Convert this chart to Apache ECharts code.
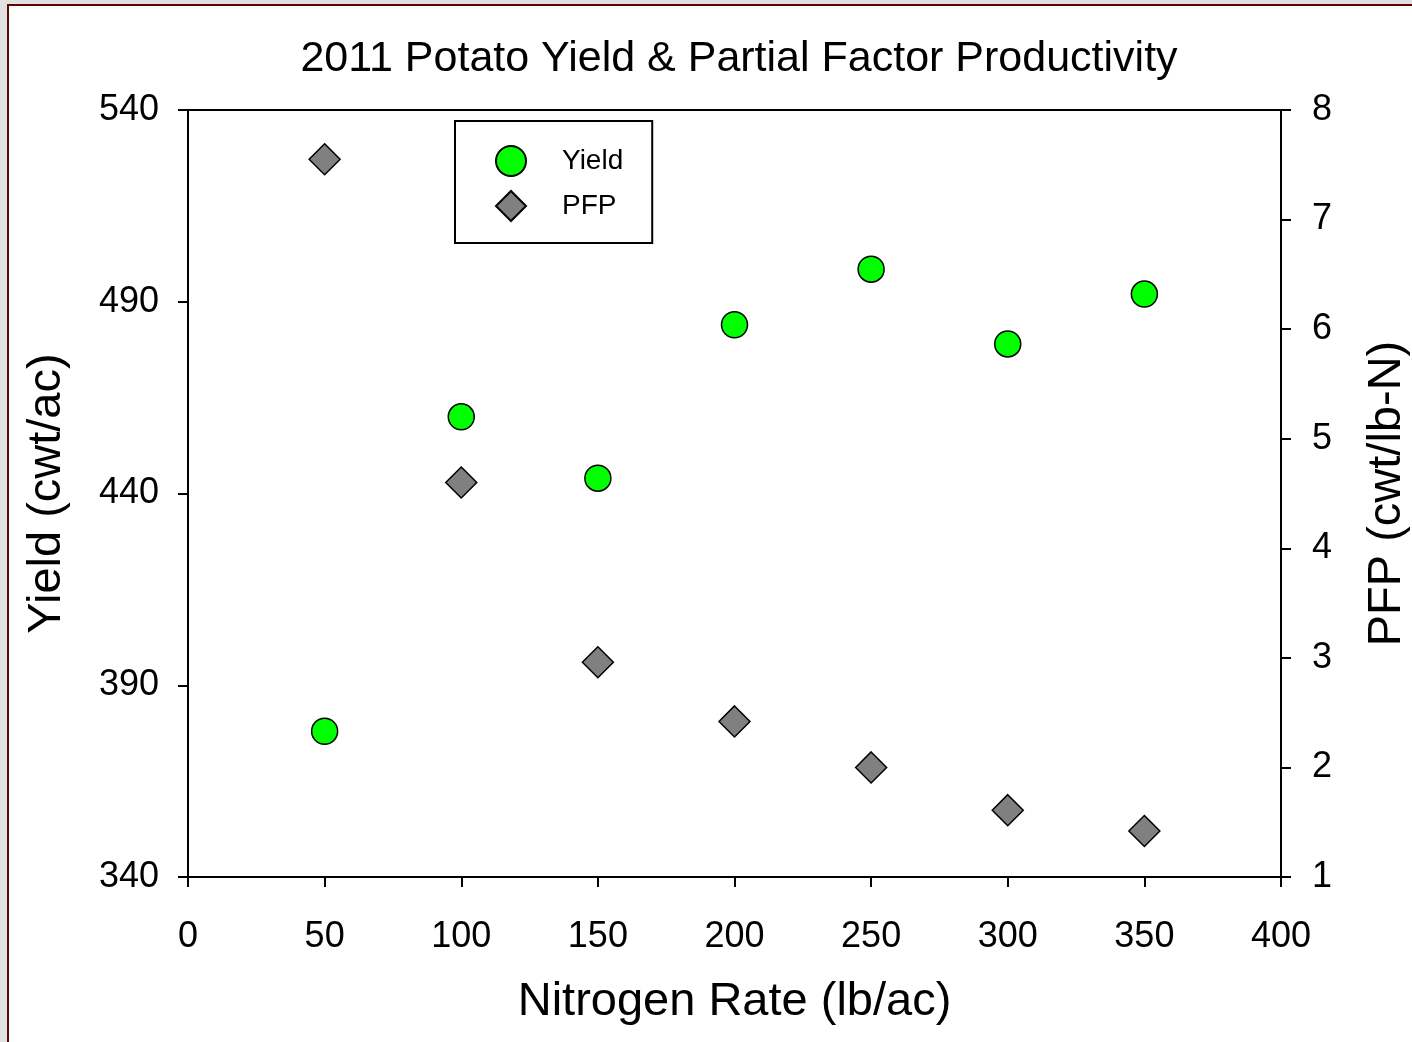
<!DOCTYPE html>
<html><head><meta charset="utf-8">
<script src="https://cdn.jsdelivr.net/npm/echarts@6/dist/echarts.min.js"></script>
<style>
html,body{margin:0;padding:0;width:1412px;height:1042px;overflow:hidden;background:#e1e1e1;}
#paper{position:absolute;left:7px;top:4px;right:0;bottom:0;background:#fff;border-left:2px solid #5c0800;border-top:2px solid #5c0800;}
#chart{position:absolute;left:0;top:0;width:1412px;height:1042px;}
</style></head><body><div id="paper"></div><div id="chart"></div>
<script>
// ---- data ----
const nitrogenRates = [50, 100, 150, 200, 250, 300, 350];
const yieldValues   = [378, 460, 444, 484, 498.5, 479, 492];
const pfpValues     = [7.55, 4.60, 2.96, 2.42, 2.00, 1.61, 1.42];
const seriesNames   = ['Yield', 'PFP'];
const xRange        = [0, 400, 50];   // min, max, tick step
const yieldRange    = [340, 540, 50];
const pfpRange      = [1, 8, 1];
const titleText     = '2011 Potato Yield & Partial Factor Productivity';
const xName = 'Nitrogen Rate (lb/ac)';
const yName = 'Yield (cwt/ac)';
const y2Name = 'PFP (cwt/lb-N)';

const FONT = '"Liberation Sans", Arial, sans-serif';
const axisCommon = {
  axisLine: { show: true, onZero: false, lineStyle: { color: '#000', width: 2 } },
  axisTick: { show: true, inside: false, length: 10, lineStyle: { color: '#000', width: 2 } },
  splitLine: { show: false },
  axisLabel: { color: '#000', fontSize: 36, fontFamily: FONT },
  nameLocation: 'middle',
  nameMoveOverlap: false,
  nameTextStyle: { color: '#000', fontSize: 47, fontFamily: FONT }
};

const chart = echarts.init(document.getElementById('chart'), null, { renderer: 'canvas' });
chart.setOption({
  animation: false,
  backgroundColor: 'transparent',
  title: {
    text: titleText, left: 739, top: 38, padding: 0, textAlign: 'center',
    textStyle: { color: '#000', fontSize: 43, fontWeight: 'normal', fontFamily: FONT }
  },
  legend: {
    data: seriesNames,
    orient: 'vertical', left: 455, top: 121,
    itemWidth: 30, itemHeight: 30, itemGap: 13,
    padding: [24, 29, 21, 40],
    borderColor: '#000', borderWidth: 2, backgroundColor: '#fff',
    textStyle: { color: '#000', fontSize: 28, fontFamily: FONT, padding: [0, 0, 0, 31] }
  },
  grid: { left: 188, right: 131, top: 110, bottom: 165, show: true, borderColor: '#000', borderWidth: 2,
          containLabel: false, outerBoundsMode: 'none' },
  xAxis: Object.assign({}, axisCommon, {
    type: 'value', min: xRange[0], max: xRange[1], interval: xRange[2],
    name: xName, nameGap: 102,
    axisLabel: Object.assign({}, axisCommon.axisLabel, { margin: 42 })
  }),
  yAxis: [
    Object.assign({}, axisCommon, {
      type: 'value', position: 'left', min: yieldRange[0], max: yieldRange[1], interval: yieldRange[2],
      name: yName, nameGap: 117, nameRotate: 90,
      axisLabel: Object.assign({}, axisCommon.axisLabel, { margin: 29, padding: [4, 0, 0, 0] })
    }),
    Object.assign({}, axisCommon, {
      type: 'value', position: 'right', min: pfpRange[0], max: pfpRange[1], interval: pfpRange[2],
      name: y2Name, nameGap: 83, nameRotate: 90, alignTicks: false,
      axisLabel: Object.assign({}, axisCommon.axisLabel, { margin: 31, padding: [4, 0, 0, 0] })
    })
  ],
  series: [
    {
      name: seriesNames[0], type: 'scatter', yAxisIndex: 0,
      symbol: 'circle', symbolSize: 26,
      itemStyle: { color: '#00ff00', borderColor: '#000', borderWidth: 1.5, opacity: 1 },
      data: nitrogenRates.map((x, i) => [x, yieldValues[i]])
    },
    {
      name: seriesNames[1], type: 'scatter', yAxisIndex: 1,
      symbol: 'diamond', symbolSize: 31,
      itemStyle: { color: '#808080', borderColor: '#000', borderWidth: 1.5, opacity: 1 },
      data: nitrogenRates.map((x, i) => [x, pfpValues[i]])
    }
  ]
});
</script></body></html>
